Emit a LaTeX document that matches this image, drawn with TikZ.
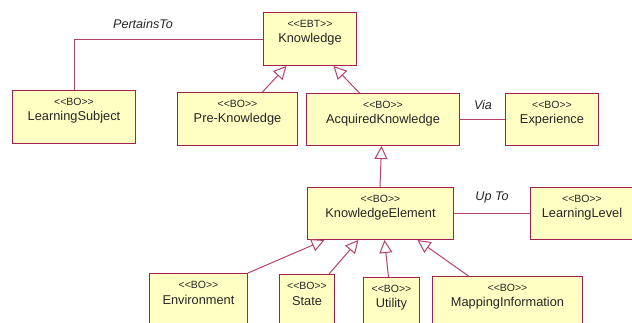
\documentclass[tikz,border=0pt]{standalone}
\usepackage{fontspec}
\setmainfont{Liberation Sans}[Ligatures=TeXOff]
\usetikzlibrary{arrows.meta}
\definecolor{boxfill}{HTML}{FFFFC4}
\definecolor{boxline}{HTML}{A3204E}
\definecolor{conline}{HTML}{B8416C}
\tikzset{
  umlbox/.style={draw=boxline, fill=boxfill, line width=1pt, anchor=north west, inner sep=0pt},
  stereo/.style={font=\fontsize{10.5}{12}\selectfont, inner sep=0pt, text=black!85},
  cname/.style={font=\fontsize{12.8}{14}\selectfont, inner sep=0pt, text=black!85},
  assoc/.style={draw=conline, line width=1pt},
  gen/.style={draw=conline, line width=1pt, -{Triangle[open, length=13pt, width=13pt]}},
  rolelab/.style={font=\fontsize{12.6}{14}\selectfont\itshape, inner sep=0pt, text=black!85}
}
\begin{document}
\begin{tikzpicture}[x=1pt, y=-1pt]
\clip (0,0) rectangle (632,322);
\fill[white] (0,0) rectangle (632,322);
% boxes
\node[umlbox, minimum width=93pt, minimum height=53pt] (kn) at (263,12) {};
\node[umlbox, minimum width=123pt, minimum height=53pt] (ls) at (12,90) {};
\node[umlbox, minimum width=120pt, minimum height=53pt] (pk) at (177,92) {};
\node[umlbox, minimum width=153pt, minimum height=52pt] (ak) at (306,93) {};
\node[umlbox, minimum width=93pt, minimum height=52pt] (ex) at (505,93) {};
\node[umlbox, minimum width=146pt, minimum height=52pt] (ke) at (307,187) {};
\node[umlbox, minimum width=110pt, minimum height=52pt] (ll) at (530,187) {};
\node[umlbox, minimum width=98pt, minimum height=60pt] (en) at (149,273) {};
\node[umlbox, minimum width=55pt, minimum height=60pt] (st) at (279,274) {};
\node[umlbox, minimum width=56pt, minimum height=60pt] (ut) at (363,277) {};
\node[umlbox, minimum width=150pt, minimum height=60pt] (mi) at (432,276) {};
% texts
\foreach \n/\s/\t in {kn/<<EBT>>/Knowledge, ls/<<BO>>/LearningSubject, pk/<<BO>>/Pre-Knowledge,
  ak/<<BO>>/AcquiredKnowledge, ex/<<BO>>/Experience, ke/<<BO>>/KnowledgeElement,
  en/<<BO>>/Environment, st/<<BO>>/State, ut/<<BO>>/Utility, mi/<<BO>>/MappingInformation}{
  \node[stereo] (\n-s) at ([yshift=-11.5pt]\n.north) {\s};
  \node[cname] (\n-n) at ([yshift=-27pt]\n.north) {\t};
}
\node[stereo] (ll-s) at (582,199) {<<BO>>};
\node[cname] (ll-n) at (582,214) {LearningLevel};
% associations
\draw[assoc] (kn.west) -| (ls.north);
\draw[assoc] (ak.east) -- (ex.west);
\draw[assoc] (ke.east) -- (ll.west);
\node[rolelab] (lab1) at (143,24) {PertainsTo};
\node[rolelab] (lab2) at (483,105) {Via};
\node[rolelab] (lab3) at (492,197) {Up To};
% generalizations
\draw[gen] ([xshift=25pt]pk.north) -- ([xshift=-23.5pt]kn.south);
\draw[gen] ([xshift=-23.5pt]ak.north) -- ([xshift=23.5pt]kn.south);
\draw[gen] ([xshift=-0.5pt]ke.north) -- ([xshift=-1.5pt]ak.south);
\draw[gen] (en.north east) -- ([xshift=-56pt]ke.south);
\draw[gen] ([xshift=22pt]st.north) -- ([xshift=-22pt]ke.south);
\draw[gen] ([xshift=-3pt]ut.north) -- ([xshift=4pt]ke.south);
\draw[gen] ([xshift=-39pt]mi.north) -- ([xshift=37pt]ke.south);
\end{tikzpicture}
\end{document}
